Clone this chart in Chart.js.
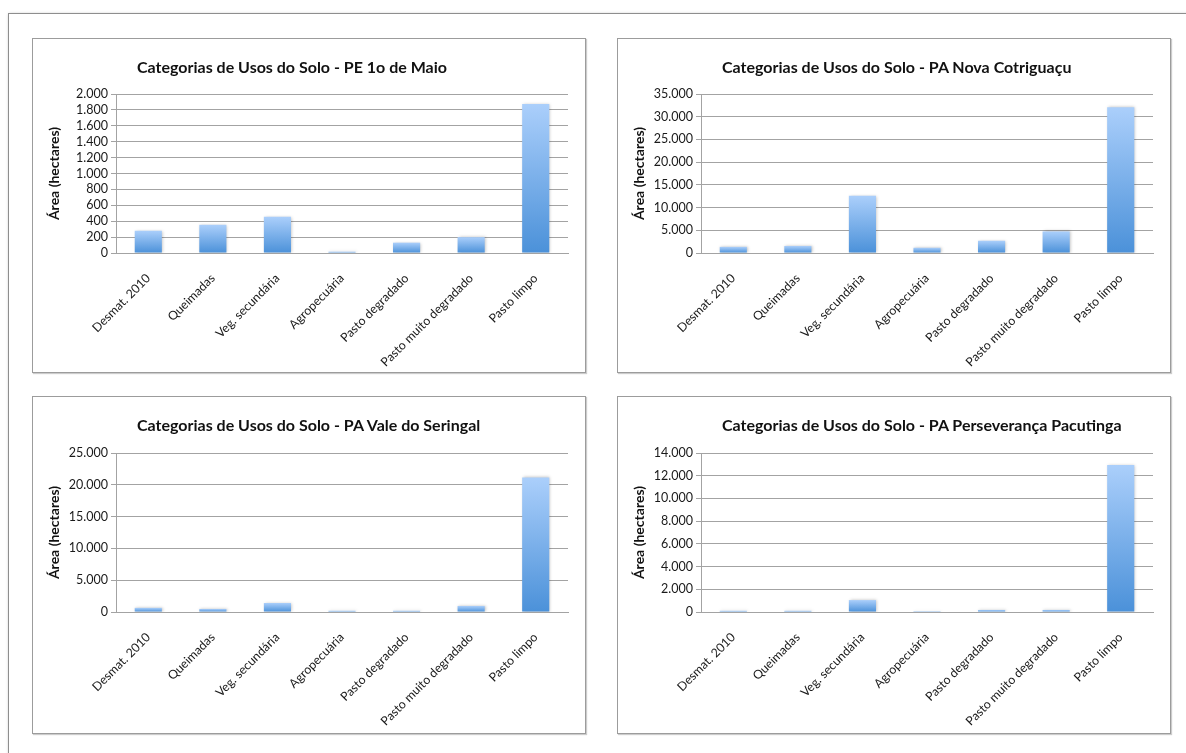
<!DOCTYPE html>
<html>
<head>
<meta charset="utf-8">
<script src="https://cdn.jsdelivr.net/npm/chart.js@4.4.1/dist/chart.umd.min.js"></script>
<style>
  body { margin: 0; background: #fff; font-family: Lato, sans-serif; }
  #folha { position: absolute; left: 8px; top: 13px; width: 1200px; height: 800px;
           border: 1px solid #8e8e8e; box-shadow: 1px 1px 3px rgba(0,0,0,.35); }
  .caixa { position: absolute; box-sizing: border-box; border: 1px solid #9c9c9c;
           box-shadow: 1px 1px 1px rgba(0,0,0,.2); background: #fff; }
  .caixa canvas { position: absolute; left: 0; top: 0; }
  .titulo { position: absolute; left: 104px; top: 18px; font: bold 16px Lato, sans-serif;
            color: #111; white-space: nowrap; }
</style>
</head>
<body>
<div id="folha"></div>

<div class="caixa" style="left:32px;top:38px;width:554px;height:335px">
  <canvas id="g1" width="552" height="333"></canvas>
  <div class="titulo" id="t1"></div>
</div>
<div class="caixa" style="left:617px;top:38px;width:554px;height:335px">
  <canvas id="g2" width="552" height="333"></canvas>
  <div class="titulo" id="t2"></div>
</div>
<div class="caixa" style="left:32px;top:396px;width:554px;height:338px">
  <canvas id="g3" width="552" height="336"></canvas>
  <div class="titulo" id="t3"></div>
</div>
<div class="caixa" style="left:617px;top:396px;width:554px;height:338px">
  <canvas id="g4" width="552" height="336"></canvas>
  <div class="titulo" id="t4"></div>
</div>

<script>
const categorias = ["Desmat. 2010", "Queimadas", "Veg. secundária", "Agropecuária",
                    "Pasto degradado", "Pasto muito degradado", "Pasto limpo"];

const titulos = [
  "Categorias de Usos do Solo - PE 1o de Maio",
  "Categorias de Usos do Solo - PA Nova Cotriguaçu",
  "Categorias de Usos do Solo - PA Vale do Seringal",
  "Categorias de Usos do Solo - PA Perseverança Pacutinga"
];

// áreas em hectares
const areasPE1oMaio        = [280, 355, 455, 17, 130, 200, 1875];
const areasNovaCotriguacu  = [1350, 1550, 12600, 1150, 2700, 4750, 32100];
const areasValeSeringal    = [650, 480, 1420, 200, 200, 950, 21150];
const areasPerseveranca    = [110, 110, 1050, 10, 180, 180, 12950];

const maximos = [2000, 35000, 25000, 14000];
const passos  = [200, 5000, 5000, 2000];

Chart.defaults.font.family = "Lato, sans-serif";

function formatar(v) {
  return String(v).replace(/\B(?=(\d{3})+(?!\d))/g, ".");
}

function gradiente(c) {
  const chart = c.chart;
  if (c.type !== "data" || !chart.scales.y) return "#7aaee8";
  const y = chart.scales.y;
  const topo = y.getPixelForValue(c.raw);
  const base = y.getPixelForValue(0);
  if (!isFinite(topo) || base - topo < 1) return "#7aaee8";
  const g = chart.ctx.createLinearGradient(0, topo, 0, base);
  g.addColorStop(0, "#abcffb");
  g.addColorStop(1, "#4b91d9");
  return g;
}

const sombra = {
  id: "sombra",
  beforeDatasetsDraw(chart) {
    const ctx = chart.ctx;
    ctx.save();
    ctx.shadowColor = "rgba(0,0,0,0.25)";
    ctx.shadowBlur = 3;
    ctx.shadowOffsetX = 1;
  },
  afterDatasetsDraw(chart) {
    chart.ctx.restore();
  }
};

function desenhar(id, titulo, dados, max, passo, topo) {
  document.getElementById("t" + id).textContent = titulo;
  const canvas = document.getElementById("g" + id);
  const alturaX = canvas.height - topo - 159;

  new Chart(canvas, {
    type: "bar",
    data: {
      labels: categorias,
      datasets: [{
        data: dados,
        backgroundColor: gradiente,
        borderWidth: 0,
        barPercentage: 0.42,
        categoryPercentage: 1
      }]
    },
    options: {
      responsive: false,
      animation: false,
      layout: { padding: { left: 13, right: 17, top: topo, bottom: 0 } },
      plugins: { legend: { display: false }, tooltip: { enabled: false } },
      scales: {
        x: {
          grid: { display: false },
          border: { color: "#a3a3a3" },
          ticks: {
            autoSkip: false, minRotation: 45, maxRotation: 45,
            color: "#1a1a1a", font: { size: 12.3 }, padding: 10
          },
          afterFit: s => { s.height = alturaX; }
        },
        y: {
          min: 0,
          max: max,
          ticks: {
            stepSize: passo, callback: formatar, autoSkip: false,
            color: "#1a1a1a", font: { size: 12.5 }, padding: 3
          },
          grid: { color: "#a3a3a3", tickLength: 5 },
          border: { color: "#a3a3a3" },
          title: {
            display: true, text: "Área (hectares)", color: "#111",
            font: { size: 14, weight: "bold" }, padding: { top: 0, bottom: 2 }
          },
          afterFit: s => { s.width = 70; }
        }
      }
    },
    plugins: [sombra]
  });
}

desenhar(1, titulos[0], areasPE1oMaio, maximos[0], passos[0], 55);
desenhar(2, titulos[1], areasNovaCotriguacu, maximos[1], passos[1], 55);
desenhar(3, titulos[2], areasValeSeringal, maximos[2], passos[2], 56);
desenhar(4, titulos[3], areasPerseveranca, maximos[3], passos[3], 56);
</script>
</body>
</html>
